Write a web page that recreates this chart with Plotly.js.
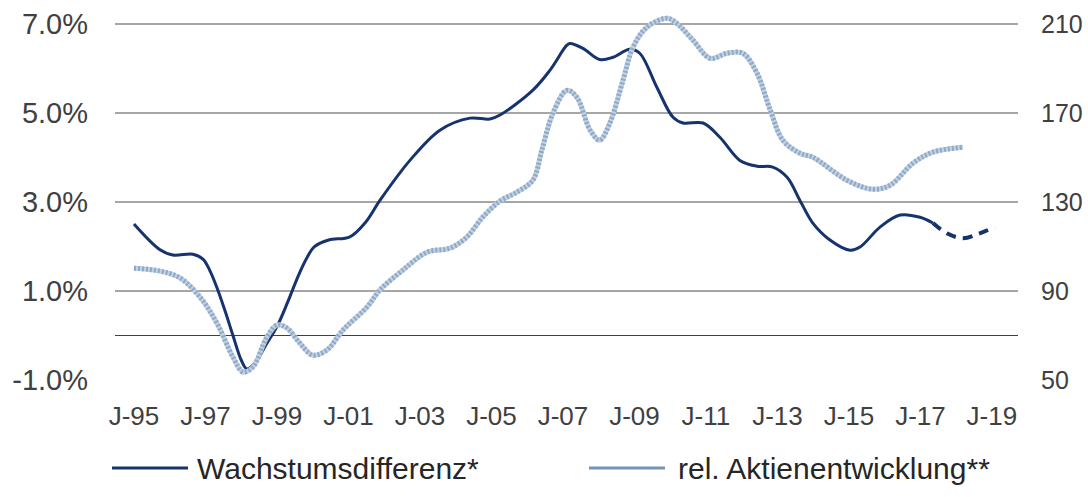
<!DOCTYPE html>
<html>
<head>
<meta charset="utf-8">
<script src="https://cdn.plot.ly/plotly-3.0.1.min.js"></script>
<style>
  html, body { margin: 0; padding: 0; background: #fff; }
  #chart { width: 1088px; height: 497px; }
</style>
</head>
<body>
<div id="chart"></div>
<script>
// Wachstumsdifferenz (left axis, %), solid part
var growthYears = [1995.0, 1995.73, 1996.09, 1996.65, 1996.93, 1997.13, 1997.32, 1997.55, 1997.77, 1998.0,
    1998.16, 1998.4, 1998.7, 1999.0, 1999.3, 1999.6, 1999.84, 2000.05, 2000.45, 2001.04,
    2001.48, 2001.88, 2002.72, 2003.56, 2004.40, 2004.96, 2005.24, 2006.16, 2006.64, 2007.11,
    2007.2, 2007.56, 2008.03, 2008.40, 2008.87, 2009.15, 2009.63, 2010.08, 2010.36, 2010.92,
    2011.39, 2011.95, 2012.43, 2012.87, 2013.27, 2013.63, 2013.99, 2014.47, 2015.03, 2015.31,
    2015.87, 2016.43, 2016.99, 2017.35];
var growthValues = [2.51, 1.93, 1.81, 1.83, 1.72, 1.45, 1.08, 0.55, 0.0, -0.55,
    -0.75, -0.6, -0.2, 0.2, 0.75, 1.35, 1.75, 2.0, 2.15, 2.22,
    2.55, 3.04, 3.94, 4.62, 4.89, 4.87, 4.96, 5.52, 5.97, 6.53,
    6.57, 6.46, 6.21, 6.26, 6.44, 6.35, 5.58, 4.91, 4.78, 4.78,
    4.46, 3.94, 3.81, 3.79, 3.56, 3.04, 2.53, 2.15, 1.92, 1.99,
    2.44, 2.71, 2.66, 2.53];

// Wachstumsdifferenz, dashed forecast part
var forecastYears = [2017.35, 2017.74, 2018.19, 2018.66, 2019.08];
var forecastValues = [2.53, 2.30, 2.19, 2.30, 2.44];

// rel. Aktienentwicklung (right axis, index)
var stockYears = [1995.0, 1995.73, 1996.29, 1996.85, 1997.32, 1997.77, 1998.05, 1998.33, 1998.72, 1999.0,
    1999.28, 1999.64, 2000.0, 2000.40, 2000.85, 2001.52, 2001.88, 2002.52, 2003.20, 2003.84,
    2004.31, 2004.76, 2005.24, 2005.71, 2006.16, 2006.41, 2006.72, 2007.11, 2007.39, 2007.76,
    2008.03, 2008.31, 2008.68, 2008.96, 2009.35, 2009.91, 2010.19, 2010.64, 2011.12, 2011.59,
    2012.03, 2012.43, 2012.80, 2013.15, 2013.63, 2013.99, 2014.94, 2015.67, 2016.15, 2016.79,
    2017.35, 2018.19];
var stockValues = [100.3, 99.0, 95.9, 87.3, 75.6, 60.3, 53.6, 55.9, 69.3, 74.7,
    73.4, 66.6, 61.2, 63.5, 72.5, 82.8, 90.5, 99.4, 107.5, 109.3,
    114.3, 123.3, 130.5, 134.5, 139.9, 153.4, 170.0, 180.3, 177.2, 162.4,
    157.9, 165.5, 184.8, 199.7, 208.7, 212.7, 210.4, 202.8, 194.7, 197.0,
    197.0, 188.0, 171.4, 157.9, 152.0, 150.2, 139.9, 135.8, 137.6, 147.5,
    152.5, 154.7];

var xTickVals = [1995, 1997, 1999, 2001, 2003, 2005, 2007, 2009, 2011, 2013, 2015, 2017, 2019];
var xTickText = ['J-95', 'J-97', 'J-99', 'J-01', 'J-03', 'J-05', 'J-07', 'J-09', 'J-11', 'J-13', 'J-15', 'J-17', 'J-19'];
var leftTickVals = [-1, 1, 3, 5, 7];
var leftTickText = ['-1.0%', '1.0%', '3.0%', '5.0%', '7.0%'];
var rightTickVals = [50, 90, 130, 170, 210];

var legendNames = ['Wachstumsdifferenz*', 'rel. Aktienentwicklung**'];

var NAVY = '#17336e';
var STEEL = '#8fa9c8';
var FONT = 'Liberation Sans, Arial, sans-serif';

// plot area in pixels, used for the hand-drawn legend
var M = { l: 115, r: 70, t: 11, b: 117 };
var W = 1088, H = 497;
var plotW = W - M.l - M.r, plotH = H - M.t - M.b;
function px(x) { return (x - M.l) / plotW; }
function py(y) { return (H - M.b - y) / plotH; }

var traceStockBase = {
    x: stockYears, y: stockValues, yaxis: 'y2',
    mode: 'lines', line: { color: '#c3d2e3', width: 5, shape: 'spline', smoothing: 1 },
    hoverinfo: 'skip', showlegend: false
};
var traceStock = {
    x: stockYears, y: stockValues, yaxis: 'y2',
    mode: 'lines', name: legendNames[1],
    line: { color: STEEL, width: 5, dash: '2px,2px', shape: 'spline', smoothing: 1 },
    showlegend: false
};
var traceGrowth = {
    x: growthYears, y: growthValues,
    mode: 'lines', name: legendNames[0],
    line: { color: NAVY, width: 3, shape: 'spline', smoothing: 1 },
    showlegend: false
};
var traceForecast = {
    x: forecastYears, y: forecastValues,
    mode: 'lines', name: legendNames[0] + ' (Prognose)',
    line: { color: NAVY, width: 4, dash: '10px,7px', shape: 'spline', smoothing: 1 },
    showlegend: false
};

var legY = 468;
var layout = {
    width: W, height: H,
    margin: M,
    paper_bgcolor: '#fff',
    plot_bgcolor: '#fff',
    font: { family: FONT, color: '#404040' },
    xaxis: {
        range: [1994.47, 2019.73],
        tickmode: 'array', tickvals: xTickVals, ticktext: xTickText,
        tickfont: { family: FONT, size: 26, color: '#404040' },
        showgrid: false, zeroline: false, showline: false, ticks: '',
        ticklabelstandoff: 18
    },
    yaxis: {
        range: [-1, 7.3],
        tickmode: 'array', tickvals: leftTickVals, ticktext: leftTickText,
        tickfont: { family: FONT, size: 29, color: '#404040' },
        showgrid: true, gridcolor: '#a6a6a6', gridwidth: 2,
        zeroline: true, zerolinecolor: '#404040', zerolinewidth: 1.5,
        showline: false, ticks: '', ticklabelstandoff: 26
    },
    yaxis2: {
        range: [50, 216],
        overlaying: 'y', side: 'right',
        tickmode: 'array', tickvals: rightTickVals,
        tickfont: { family: FONT, size: 25, color: '#404040' },
        showgrid: false, zeroline: false, showline: false, ticks: '',
        ticklabelstandoff: 22
    },
    shapes: [
        { type: 'line', xref: 'paper', yref: 'paper', x0: px(112), x1: px(188), y0: py(legY), y1: py(legY),
          line: { color: NAVY, width: 3 } },
        { type: 'line', xref: 'paper', yref: 'paper', x0: px(589), x1: px(665), y0: py(legY), y1: py(legY),
          line: { color: '#7393b8', width: 3 } }
    ],
    annotations: [
        { xref: 'paper', yref: 'paper', x: px(195), y: py(legY), xanchor: 'left', yanchor: 'middle',
          text: legendNames[0], showarrow: false, font: { family: FONT, size: 30, color: '#262626' } },
        { xref: 'paper', yref: 'paper', x: px(676), y: py(legY), xanchor: 'left', yanchor: 'middle',
          text: legendNames[1], showarrow: false, font: { family: FONT, size: 30, color: '#262626' } }
    ],
    showlegend: false
};

Plotly.newPlot('chart', [traceStockBase, traceStock, traceGrowth, traceForecast], layout, { displayModeBar: false, staticPlot: true });
</script>
</body>
</html>
